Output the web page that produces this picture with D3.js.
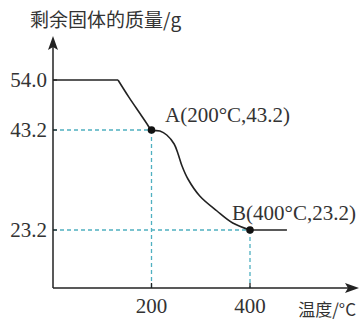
<!DOCTYPE html>
<html><head><meta charset="utf-8">
<script src="https://cdn.jsdelivr.net/npm/d3@7/dist/d3.min.js"></script>
<style>body{margin:0;background:#fff}svg{display:block}</style>
</head><body>
<svg id="c" width="359" height="320"></svg>
<script>
// data
const xTicks = [200, 400];
const yTicks = [54.0, 43.2, 23.2];
const yTickLabels = ["54.0", "43.2", "23.2"];
const plateauStart = [[0, 54.0], [132, 54.0]];
const descent = [[132, 54.0], [154, 50.3], [177, 46.7], [191, 44.5], [200, 43.2], [217, 43.0], [231, 42.2], [246, 40.4], [254, 38.4], [262, 36.0], [274, 33.4], [298, 30.0], [333, 27.0], [365, 24.6], [400, 23.2]];
const plateauEnd = [[400, 23.2], [475, 23.2]];
const keyPoints = [{t: 200, m: 43.2, label: "A(200°C,43.2)"}, {t: 400, m: 23.2, label: "B(400°C,23.2)"}];
const yTitle = "剩余固体的质量/g";
const xTitle = "温度/°C";

const svg = d3.select("#c");
const x = d3.scaleLinear().domain([0, 400]).range([53, 250]);
const y = d3.scaleLinear().domain([0, 23.2, 43.2, 54]).range([288, 230, 130, 80]);
const ox = 53, oy = 288;
const serif = "'Liberation Serif','Times New Roman',serif";
const teal = "#4fb0c0";

// dashed guides
keyPoints.forEach(p => {
  svg.append("line").attr("x1", ox).attr("x2", x(p.t)).attr("y1", y(p.m)).attr("y2", y(p.m))
    .attr("stroke", teal).attr("stroke-width", 1.3).attr("stroke-dasharray", "4,3");
  svg.append("line").attr("x1", x(p.t)).attr("x2", x(p.t)).attr("y1", y(p.m)).attr("y2", oy)
    .attr("stroke", teal).attr("stroke-width", 1.3).attr("stroke-dasharray", "4,3");
});

// axes
svg.append("line").attr("x1", ox).attr("x2", ox).attr("y1", oy).attr("y2", 40).attr("stroke", "#222").attr("stroke-width", 1.5);
svg.append("path").attr("d", `M${ox},36 L${ox-5},50 L${ox},47 L${ox+5},50 Z`).attr("fill", "#222");
svg.append("line").attr("x1", ox).attr("x2", 355).attr("y1", oy).attr("y2", oy).attr("stroke", "#222").attr("stroke-width", 1.5);
svg.append("path").attr("d", `M359,${oy} L345,${oy-5} L348,${oy} L345,${oy+5} Z`).attr("fill", "#222");

// ticks
xTicks.forEach(t => {
  svg.append("line").attr("x1", x(t)).attr("x2", x(t)).attr("y1", oy).attr("y2", oy - 5).attr("stroke", "#222").attr("stroke-width", 1.3);
  svg.append("text").attr("x", x(t)).attr("y", 313).attr("text-anchor", "middle")
    .attr("font-family", serif).attr("font-size", 21).attr("fill", "#333").text(t);
});
yTicks.forEach((v, i) => {
  svg.append("line").attr("x1", ox).attr("x2", ox + 4).attr("y1", y(v)).attr("y2", y(v)).attr("stroke", "#222").attr("stroke-width", 1.3);
  svg.append("text").attr("x", 47).attr("y", y(v) + 7).attr("text-anchor", "end")
    .attr("font-family", serif).attr("font-size", 21).attr("fill", "#333").text(yTickLabels[i]);
});

// curve
const lin = d3.line().x(d => x(d[0])).y(d => y(d[1]));
const smooth = d3.line().x(d => x(d[0])).y(d => y(d[1])).curve(d3.curveCatmullRom.alpha(0.5));
[plateauStart, plateauEnd].forEach(s => svg.append("path").attr("d", lin(s)).attr("fill", "none").attr("stroke", "#222").attr("stroke-width", 1.6));
svg.append("path").attr("d", smooth(descent)).attr("fill", "none").attr("stroke", "#222").attr("stroke-width", 1.6);

// key points
keyPoints.forEach((p, i) => {
  svg.append("circle").attr("cx", x(p.t)).attr("cy", y(p.m)).attr("r", 3.8).attr("fill", "#111");
  svg.append("text").attr("x", i === 0 ? 165 : 232).attr("y", i === 0 ? 122 : 220)
    .attr("font-family", serif).attr("font-size", 21).attr("fill", "#333").text(p.label);
});

// titles
svg.append("text").attr("x", 30).attr("y", 27).attr("font-family", "'Noto Sans CJK SC',sans-serif")
  .attr("font-size", 19).attr("fill", "#333").text(yTitle);
svg.append("text").attr("x", 356).attr("y", 316).attr("text-anchor", "end").attr("font-family", "'Noto Sans CJK SC',sans-serif")
  .attr("font-size", 17).attr("fill", "#333").text(xTitle);
</script>
</body></html>
